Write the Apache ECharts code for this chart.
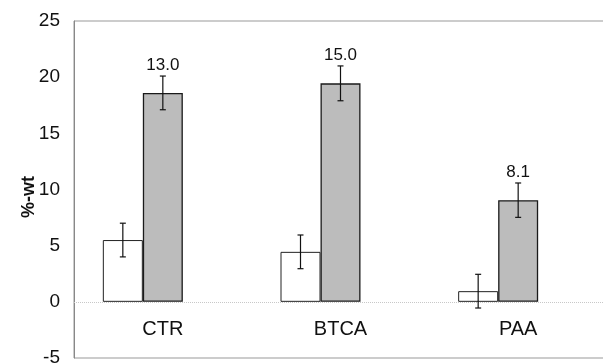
<!DOCTYPE html>
<html>
<head>
<meta charset="utf-8">
<script src="https://cdn.jsdelivr.net/npm/echarts@6/dist/echarts.min.js"></script>
<style>
html,body{margin:0;padding:0;background:#fff;}
#chart{width:603px;height:364px;}
</style>
</head>
<body>
<div id="chart"></div>
<script>
// ---- data ----
var categories = ['CTR', 'BTCA', 'PAA'];
var untreated = [5.5, 4.45, 0.95];
var treated = [18.6, 19.45, 9.05];
var errUntreated = [1.5, 1.5, 1.5];
var errTreated = [1.5, 1.55, 1.53];
var topLabels = ['13.0', '15.0', '8.1'];
var yTicks = [-5, 0, 5, 10, 15, 20, 25];

var BAR_W = 40;
var FONT = '"Liberation Sans", Arial, Helvetica, sans-serif';

var chart = echarts.init(document.getElementById('chart'));

function errData(vals, errs) {
  return vals.map(function (v, i) { return [i, v - errs[i], v + errs[i], topLabels[i]]; });
}

function makeErr(offset, withLabel) {
  return function (params, api) {
    var lo = api.coord([api.value(0), api.value(1)]);
    var hi = api.coord([api.value(0), api.value(2)]);
    var x = lo[0] + offset;
    var cap = 3;
    var st = { stroke: '#111', lineWidth: 1.2 };
    var children = [
      { type: 'line', shape: { x1: x, y1: lo[1], x2: x, y2: hi[1] }, style: st },
      { type: 'line', shape: { x1: x - cap, y1: lo[1], x2: x + cap, y2: lo[1] }, style: st },
      { type: 'line', shape: { x1: x - cap, y1: hi[1], x2: x + cap, y2: hi[1] }, style: st }
    ];
    if (withLabel) {
      children.push({
        type: 'text',
        style: {
          text: topLabels[params.dataIndex],
          x: x, y: hi[1] - 2,
          align: 'center', verticalAlign: 'bottom',
          fill: '#111', font: '17px ' + FONT
        }
      });
    }
    return { type: 'group', children: children };
  };
}

var option = {
  animation: false,
  backgroundColor: '#fff',
  grid: {
    left: 74, top: 21, width: 533, height: 337,
    containLabel: false, outerBoundsMode: 'none',
    show: true, borderColor: '#999', borderWidth: 1, backgroundColor: 'transparent'
  },
  xAxis: {
    type: 'category',
    data: categories,
    axisLine: { show: false, onZero: false },
    axisTick: { show: false },
    axisLabel: { margin: -39, fontSize: 20, color: '#111', fontFamily: FONT }
  },
  yAxis: {
    type: 'value',
    min: -5, max: 25, interval: 5,
    name: '%-wt',
    nameLocation: 'middle',
    nameGap: 36,
    nameMoveOverlap: false,
    nameTextStyle: { fontSize: 18, fontWeight: 'bold', color: '#111', fontFamily: FONT, padding: [0, 15, 0, 0] },
    axisLine: { show: true, lineStyle: { color: '#888' } },
    axisTick: { show: false },
    splitLine: { show: false },
    axisLabel: { margin: 14, fontSize: 19, color: '#111', fontFamily: FONT }
  },
  series: [
    {
      type: 'bar', data: untreated, barWidth: BAR_W, barGap: '0%',
      itemStyle: { color: '#fff', borderColor: '#222', borderWidth: 1 },
      markLine: {
        silent: true, symbol: 'none', label: { show: false },
        lineStyle: { color: '#c8c8c8', type: 'dotted', width: 1 },
        data: [{ yAxis: 0 }]
      }
    },
    {
      type: 'bar', data: treated, barWidth: BAR_W, barGap: '0%',
      itemStyle: { color: '#bcbcbc', borderColor: '#1a1a1a', borderWidth: 1.3 }
    },
    {
      type: 'bar', data: [null, null, null], barWidth: BAR_W, barGap: '0%',
      itemStyle: { color: 'transparent' }
    },
    {
      type: 'custom', data: errData(untreated, errUntreated),
      renderItem: makeErr(-BAR_W, false), z: 10,
      encode: { x: 0, y: [1, 2] }
    },
    {
      type: 'custom', data: errData(treated, errTreated),
      renderItem: makeErr(0, true), z: 10,
      encode: { x: 0, y: [1, 2] }
    }
  ]
};
chart.setOption(option);
</script>
</body>
</html>
